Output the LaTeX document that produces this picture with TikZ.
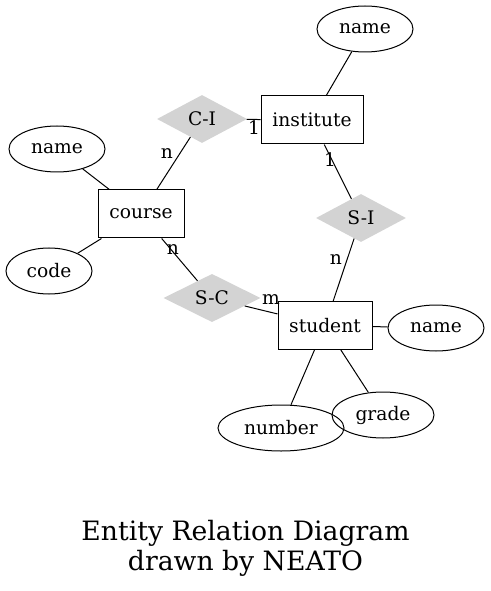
\documentclass[tikz,border=0pt]{standalone}
\usepackage{fontspec}
\setmainfont{DejaVu Serif}
\usetikzlibrary{shapes.geometric}
\definecolor{lgrey}{RGB}{211,211,211}
\begin{document}
\begin{tikzpicture}[x=0.75pt,y=-0.75pt,
  every node/.style={font=\fontsize{14pt}{16pt}\selectfont, inner sep=0pt},
  ent/.style={draw, line width=0.75pt, rectangle, minimum height=36pt},
  attr/.style={draw, line width=0.75pt, ellipse, minimum height=34.5pt},
  rel/.style={diamond, fill=lgrey, minimum height=36pt},
  lab/.style={font=\fontsize{14pt}{16pt}\selectfont},
  conn/.style={line width=0.75pt}]
\useasboundingbox (0,0) rectangle (490,591);
% entities
\node[ent, minimum width=76.5pt] (inst) at (312,120) {institute};
\node[ent, minimum width=64.5pt] (course) at (141,214) {course};
\node[ent, minimum width=70.5pt] (student) at (325,325.5) {student};
% relations
\node[rel, minimum width=67.5pt] (ci) at (202,119) {C-I};
\node[rel, minimum width=67.5pt] (si) at (361,218) {S-I};
\node[rel, minimum width=72.75pt] (sc) at (212,298) {S-C};
% attributes
\node[attr, minimum width=72pt] (nameI) at (365,29) {name};
\node[attr, minimum width=72pt] (nameC) at (57,149) {name};
\node[attr, minimum width=64.5pt] (code) at (49,271) {code};
\node[attr, minimum width=72pt] (nameS) at (436,328) {name};
\node[attr, minimum width=94.5pt] (number) at (281,428) {number};
\node[attr, minimum width=76.5pt] (grade) at (383,415) {grade};
% connectors
\draw[conn] (nameI) -- (inst);
\draw[conn] (ci) -- (inst);
\draw[conn] (ci) -- (course);
\draw[conn] (inst) -- (si);
\draw[conn] (si) -- (student);
\draw[conn] (course) -- (sc);
\draw[conn] (sc) -- (student);
\draw[conn] (nameC) -- (course);
\draw[conn] (code) -- (course);
\draw[conn] (student) -- (nameS);
\draw[conn] (student) -- (number);
\draw[conn] (student) -- (grade);
% edge labels
\node[lab] (l1) at (254,128) {1};
\node[lab] (l2) at (167,154) {n};
\node[lab] (l3) at (330,160) {1};
\node[lab] (l4) at (336,260) {n};
\node[lab] (l5) at (173,250) {n};
\node[lab] (l6) at (271,300) {m};
% title
\node[font=\fontsize{20pt}{22.5pt}\selectfont, align=center] (title) at (245.5,548) {Entity Relation Diagram\\drawn by NEATO};
\end{tikzpicture}
\end{document}
